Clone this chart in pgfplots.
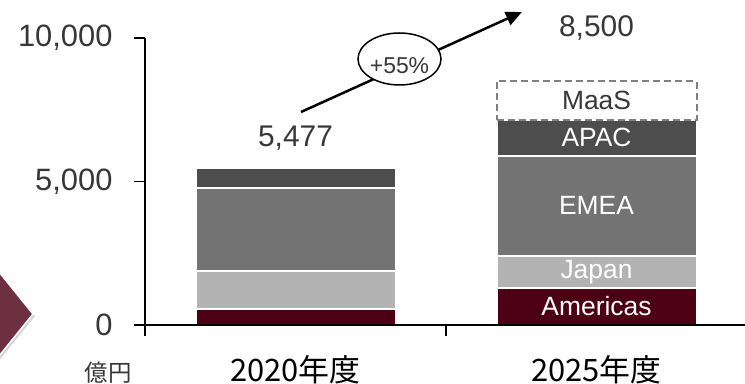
\documentclass[border=0pt]{standalone}
\usepackage{pgfplots}
\pgfplotsset{compat=1.18}
\usepackage{fontspec}
\setmainfont{Liberation Sans}
\newfontfamily\cjk{Noto Sans CJK JP}
\usetikzlibrary{shadows,arrows.meta}
\definecolor{amer}{RGB}{77,0,19}
\definecolor{japan}{RGB}{179,179,179}
\definecolor{emea}{RGB}{115,115,115}
\definecolor{apac}{RGB}{77,77,77}
\definecolor{txt}{RGB}{55,55,55}
\definecolor{deco}{RGB}{108,48,64}
\definecolor{dash}{RGB}{128,128,128}

\pgfplotsset{
  geom/.style={
    at={(145bp,59bp)}, anchor=south west,
    scale only axis, width=602bp, height=287bp,
    xmin=-0.5, xmax=1.5, ymin=0, ymax=10000,
    ybar stacked, bar width=200bp, clip=false,
  }
}

\begin{document}
\begin{tikzpicture}
\useasboundingbox (0,0) rectangle (745bp,384bp);
\clip (0,0) rectangle (745bp,384bp);

% decorative chevron at the left edge
\fill[deco, draw=white, line width=1.5bp,
  drop shadow={shadow xshift=2bp, shadow yshift=-2bp, opacity=0.35}]
  (-30bp,148bp) -- (33bp,70bp) -- (-30bp,-8bp) -- cycle;

\begin{axis}[geom,
  axis on top,
  axis x line*=bottom, axis y line*=left,
  axis line style={-, line width=1.5bp, black},
  tick align=outside,
  major tick length=11bp,
  tick style={line width=1.5bp, black},
  ytick={0,5000,10000},
  scaled y ticks=false,
  /pgf/number format/1000 sep={,},
  /pgf/number format/assume math mode=true,
  yticklabel style={font=\fontsize{31}{31}\selectfont, text=txt, xshift=-18bp},
  xtick={-0.5,0.5}, xticklabels={,},
  extra x ticks={0,1},
  extra x tick labels={{\cjk 2020年度},{\cjk 2025年度}},
  extra x tick style={tick style={draw=none},
    xticklabel style={font=\fontsize{31}{31}\selectfont, text=black, yshift=-16bp}},
  after end axis/.code={
    \node[text=white, font=\fontsize{26.5}{26.5}\selectfont] at (axis cs:1,650) {Americas};
    \node[text=white, font=\fontsize{26.5}{26.5}\selectfont] at (axis cs:1,1850) {Japan};
    \node[text=white, font=\fontsize{26.5}{26.5}\selectfont] at (axis cs:1,4150) {EMEA};
    \node[text=white, font=\fontsize{26.5}{26.5}\selectfont] at (axis cs:1,6525) {APAC};
  },
]
\addplot[fill=amer, draw=white, line width=2bp] coordinates {(0,560) (1,1300)};
\addplot[fill=japan, draw=white, line width=2bp] coordinates {(0,1330) (1,1100)};
\addplot[fill=emea, draw=white, line width=2bp] coordinates {(0,2900) (1,3500)};
\addplot[fill=apac, draw=white, line width=2bp] coordinates {(0,687) (1,1250)};

\node[text=txt, font=\fontsize{30}{30}\selectfont] at (axis cs:0,6516) {5,477};
\node[text=txt, font=\fontsize{30}{30}\selectfont] at (axis cs:1,10348) {8,500};
\end{axis}

\begin{axis}[geom, hide axis,
  after end axis/.code={
    \node[text=txt, font=\fontsize{26.5}{26.5}\selectfont] at (axis cs:1,7825) {MaaS};
  }]
\addplot[draw=none, fill=none] coordinates {(1,7150)};
\addplot[fill=white, draw=dash, line width=2bp, dash pattern=on 7bp off 4bp] coordinates {(1,1350)};
\end{axis}

% growth arrow with ellipse
\draw[line width=2.5bp, -{Triangle[length=16bp,width=14bp]}] (301bp,272bp) -- (522bp,372bp);
\draw[fill=white, line width=1.5bp] (399.5bp,325bp) ellipse [x radius=41.5bp, y radius=26bp];
\node[text=txt, font=\fontsize{23}{23}\selectfont] at (399.5bp,318bp) {+55\%};

\node[text=txt, font=\cjk\fontsize{23.5}{23.5}\selectfont] at (108bp,11bp) {億円};
\end{tikzpicture}
\end{document}
